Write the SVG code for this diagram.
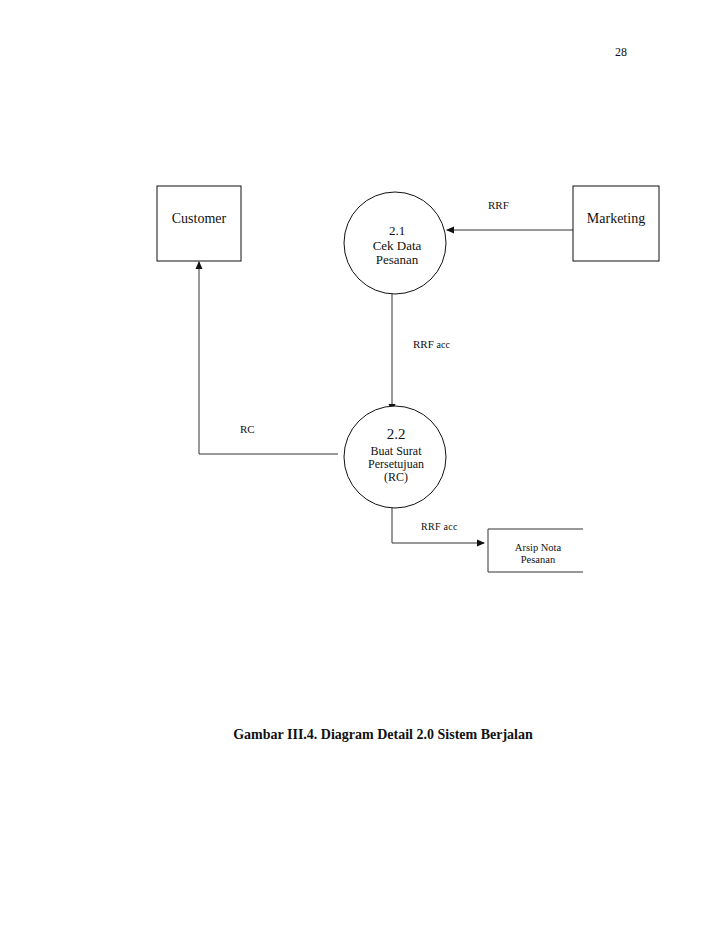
<svg xmlns="http://www.w3.org/2000/svg" width="728" height="943" viewBox="0 0 728 943">
<style>
text{font-family:"Liberation Serif","Times New Roman",serif;fill:#111}
.box{fill:#fff;stroke:#111;stroke-width:1}
.proc{fill:#fff;stroke:#111;stroke-width:1}
.flow{fill:none;stroke:#333;stroke-width:1}
.lbl{font-size:11px}
.sm{font-size:10px}
.ent{font-size:14px}
.pt{font-size:13px}
.pt2{font-size:12px}
</style>
<defs>
<marker id="ah" markerWidth="8" markerHeight="8" refX="7" refY="4" orient="auto" markerUnits="userSpaceOnUse">
<path d="M0,0.5 L8,4 L0,7.5 z" fill="#111"/>
</marker>
</defs>
<rect width="728" height="943" fill="#fff"/>
<text x="621" y="56" font-size="12" text-anchor="middle">28</text>
<g id="connectors">
<line class="flow" x1="573" y1="230" x2="447" y2="230" marker-end="url(#ah)"/>
<line class="flow" x1="392" y1="294" x2="392" y2="411" marker-end="url(#ah)"/>
<polyline class="flow" points="338,454 199,454 199,262" marker-end="url(#ah)"/>
<polyline class="flow" points="392,508 392,543 484,543" marker-end="url(#ah)"/>
<text class="lbl" x="488" y="209">RRF</text>
<text class="lbl" x="413" y="348">RRF <tspan class="sm">acc</tspan></text>
<text class="lbl" x="240" y="433" font-size="10.5">RC</text>
<text x="421" y="530" font-size="10" letter-spacing="0.3">RRF acc</text>
</g>
<g id="customer">
<rect class="box" x="157" y="186" width="84" height="75"/>
<text class="ent" x="199" y="223" text-anchor="middle">Customer</text>
</g>
<g id="marketing">
<rect class="box" x="573" y="186" width="86" height="75"/>
<text class="ent" x="616" y="223" text-anchor="middle">Marketing</text>
</g>
<g id="p21">
<circle class="proc" cx="395" cy="243" r="51"/>
<text class="pt" x="397" y="235" text-anchor="middle">2.1</text>
<text class="pt" x="397" y="250" text-anchor="middle">Cek Data</text>
<text class="pt" x="397" y="264" text-anchor="middle">Pesanan</text>
</g>
<g id="p22">
<circle class="proc" cx="395" cy="457" r="51"/>
<text x="396" y="439" font-size="15" text-anchor="middle">2.2</text>
<text class="pt2" x="396" y="455" text-anchor="middle">Buat Surat</text>
<text class="pt2" x="396" y="468" text-anchor="middle">Persetujuan</text>
<text class="pt2" x="396" y="481" text-anchor="middle">(RC)</text>
</g>
<g id="arsip">
<polyline class="flow" points="583,529 488,529 488,572 583,572" stroke="#111"/>
<text x="538" y="551" font-size="10.5" text-anchor="middle">Arsip Nota</text>
<text x="538" y="563" font-size="10.5" text-anchor="middle">Pesanan</text>
</g>
<text x="383" y="739" font-size="14" font-weight="bold" text-anchor="middle">Gambar III.4. Diagram Detail 2.0 Sistem Berjalan</text>
</svg>
